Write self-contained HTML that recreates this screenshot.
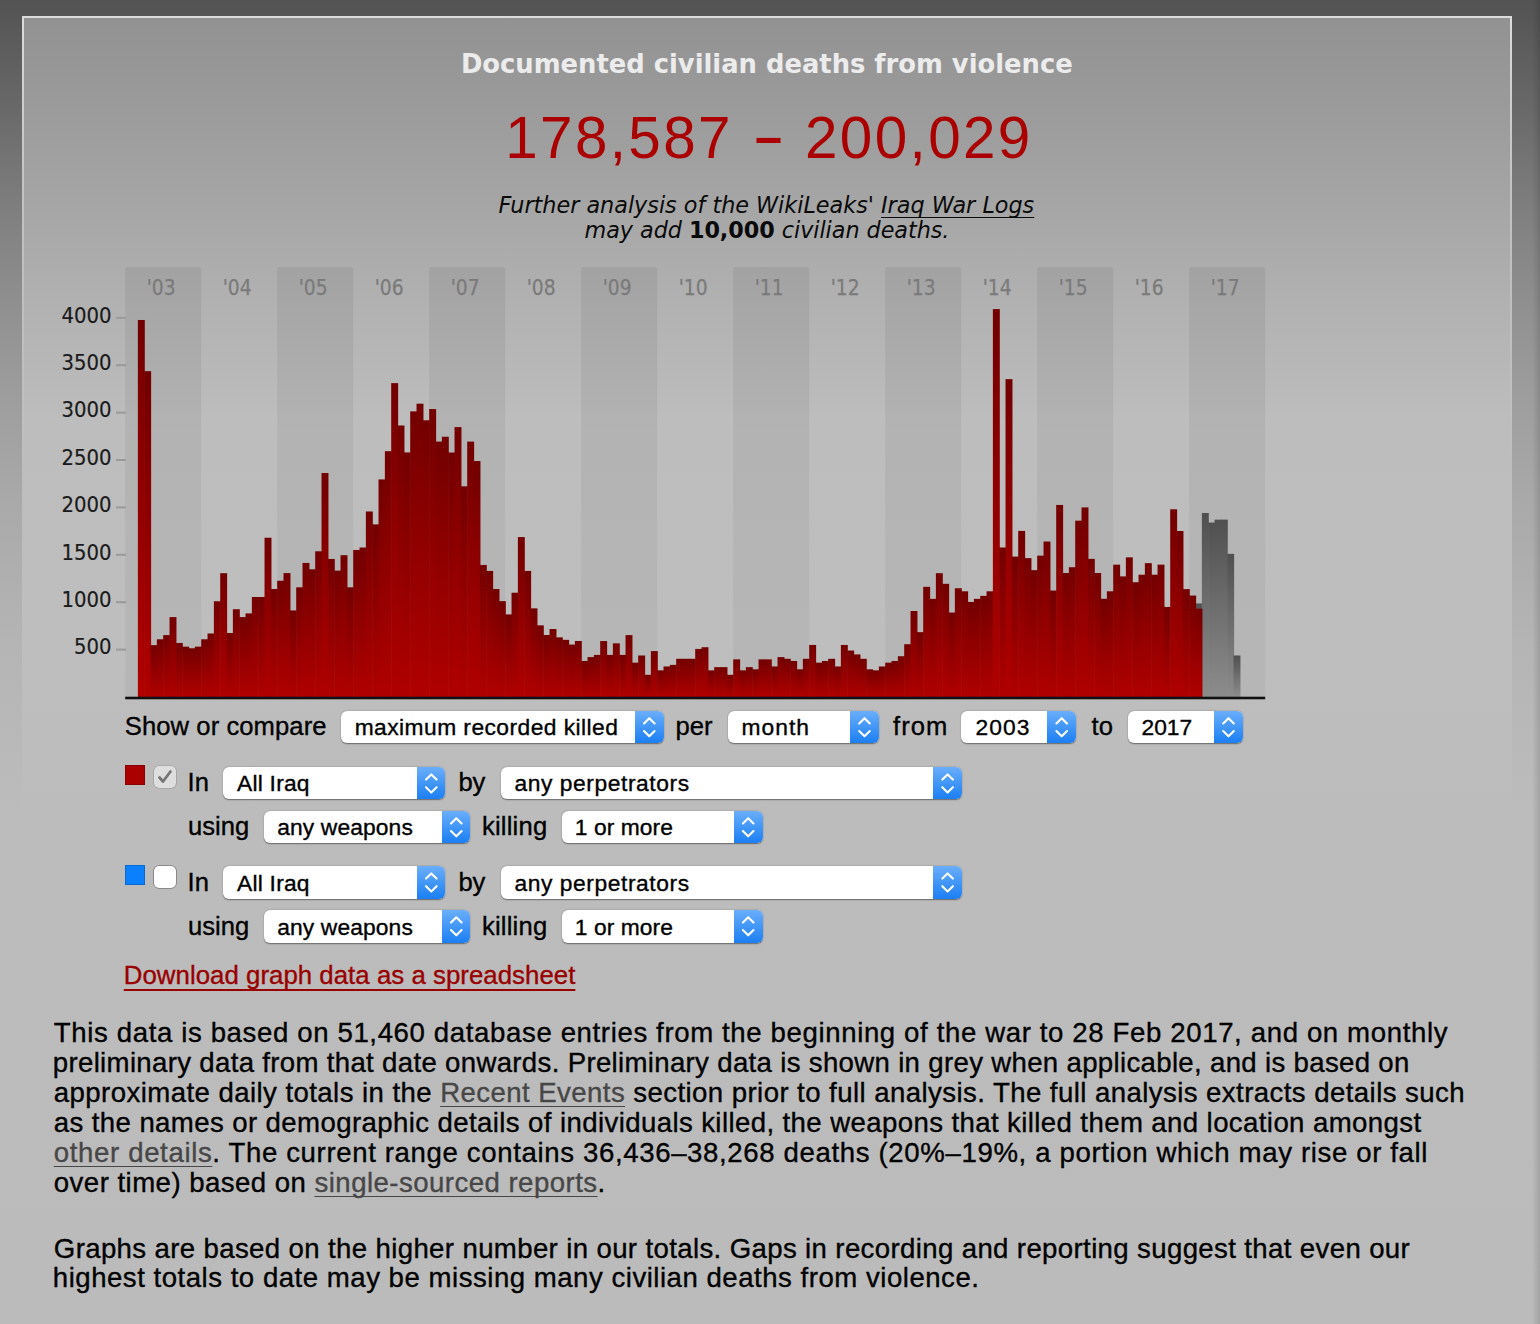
<!DOCTYPE html>
<html><head><meta charset="utf-8"><title>Iraq Body Count</title>
<style>
html,body{margin:0;padding:0;}
body{width:1540px;height:1324px;overflow:hidden;position:relative;background:linear-gradient(to bottom,#545454 0px,#565656 16px,#5f5f5f 60px,#676767 100px,#7d7d7d 200px,#8f8f8f 300px,#9e9e9e 400px,#a9a9a9 500px,#b5b5b5 650px,#bcbcbc 815px,#bbbbbb 1324px);font-family:'Liberation Sans', sans-serif;color:#000;}
.panel{position:absolute;left:22px;top:16px;width:1490px;height:1308px;background:linear-gradient(to bottom,#929292 0px,#9a9a9a 84px,#a5a5a5 184px,#b1b1b1 284px,#bdbdbd 404px,#bebebe 634px,#bcbcbc 799px,#bbbbbb 1308px);}
.bt{position:absolute;left:22px;top:16px;width:1490px;height:2px;background:#dcdcdc;}
.bl,.br{position:absolute;top:16px;width:2px;height:500px;background:linear-gradient(to bottom,#dcdcdc 0,rgba(220,220,220,0.5) 200px,rgba(220,220,220,0) 450px);}
.redge{position:absolute;left:1532px;top:0;width:8px;height:1324px;background:linear-gradient(to right,rgba(0,0,0,0),rgba(0,0,0,0.13));}
.bl{left:22px;} .br{left:1510px;}
.tx{position:absolute;white-space:nowrap;line-height:1.2;text-decoration-skip-ink:none;}
.tx a,.tx u{text-decoration-skip-ink:none;}
.tx b{font-style:normal;}
.tx u{text-decoration-thickness:1.2px;text-underline-offset:3.5px;}
.tx a{color:#474747;text-decoration:underline;text-decoration-thickness:1.4px;text-underline-offset:3.5px;}
.tx a.dla{color:#990000;text-decoration-thickness:2px;text-underline-offset:4.5px;}
.chart{position:absolute;left:0;top:0;}
.yl{font:21.5px "DejaVu Sans",sans-serif;fill:#7a7a7a;stroke:#7a7a7a;stroke-width:0.25px;}
.al{font:21px "DejaVu Sans",sans-serif;fill:#1a1a1a;stroke:#1a1a1a;stroke-width:0.2px;}
.sel{position:absolute;background:#fff;border-radius:6px;box-shadow:0 0.6px 1.4px rgba(0,0,0,0.45);overflow:hidden;}
.btn{position:absolute;right:0;top:0;bottom:0;background:linear-gradient(to bottom,#6aaefb,#1b7ff3);}
.btn svg{display:block;}
.sw{position:absolute;width:20px;height:20px;box-shadow:inset 0 0 0 1px rgba(0,0,0,0.18);}
.cb{position:absolute;width:22px;height:22px;border-radius:5px;background:#fff;box-shadow:0 0 0 0.8px rgba(0,0,0,0.35);}
.cb.dis{background:#dedede;box-shadow:0 0 0 0.6px rgba(0,0,0,0.2);}
.cb svg{display:block;}
</style></head><body>
<div class="panel"></div><div class="redge"></div><div class="bt"></div><div class="bl"></div><div class="br"></div>
<svg class="chart" width="1540" height="720" viewBox="0 0 1540 720"><defs><linearGradient id="rg" x1="0" y1="0" x2="0" y2="1"><stop offset="0" stop-color="#720000"/><stop offset="0.3" stop-color="#860000"/><stop offset="1" stop-color="#b00000"/></linearGradient><linearGradient id="gg" x1="0" y1="0" x2="0" y2="1"><stop offset="0" stop-color="#505050"/><stop offset="1" stop-color="#8c8c8c"/></linearGradient><linearGradient id="band" x1="0" y1="0" x2="0" y2="1"><stop offset="0" stop-color="#000" stop-opacity="0.065"/><stop offset="1" stop-color="#000" stop-opacity="0.04"/></linearGradient></defs><rect x="125.20" y="267" width="76" height="430.0" rx="2" fill="url(#band)"/><rect x="277.20" y="267" width="76" height="430.0" rx="2" fill="url(#band)"/><rect x="429.20" y="267" width="76" height="430.0" rx="2" fill="url(#band)"/><rect x="581.20" y="267" width="76" height="430.0" rx="2" fill="url(#band)"/><rect x="733.20" y="267" width="76" height="430.0" rx="2" fill="url(#band)"/><rect x="885.20" y="267" width="76" height="430.0" rx="2" fill="url(#band)"/><rect x="1037.20" y="267" width="76" height="430.0" rx="2" fill="url(#band)"/><rect x="1189.20" y="267" width="76" height="430.0" rx="2" fill="url(#band)"/><text x="146.7" y="294.6" class="yl" textLength="29" lengthAdjust="spacingAndGlyphs">&#39;03</text><text x="222.7" y="294.6" class="yl" textLength="29" lengthAdjust="spacingAndGlyphs">&#39;04</text><text x="298.7" y="294.6" class="yl" textLength="29" lengthAdjust="spacingAndGlyphs">&#39;05</text><text x="374.7" y="294.6" class="yl" textLength="29" lengthAdjust="spacingAndGlyphs">&#39;06</text><text x="450.7" y="294.6" class="yl" textLength="29" lengthAdjust="spacingAndGlyphs">&#39;07</text><text x="526.7" y="294.6" class="yl" textLength="29" lengthAdjust="spacingAndGlyphs">&#39;08</text><text x="602.7" y="294.6" class="yl" textLength="29" lengthAdjust="spacingAndGlyphs">&#39;09</text><text x="678.7" y="294.6" class="yl" textLength="29" lengthAdjust="spacingAndGlyphs">&#39;10</text><text x="754.7" y="294.6" class="yl" textLength="29" lengthAdjust="spacingAndGlyphs">&#39;11</text><text x="830.7" y="294.6" class="yl" textLength="29" lengthAdjust="spacingAndGlyphs">&#39;12</text><text x="906.7" y="294.6" class="yl" textLength="29" lengthAdjust="spacingAndGlyphs">&#39;13</text><text x="982.7" y="294.6" class="yl" textLength="29" lengthAdjust="spacingAndGlyphs">&#39;14</text><text x="1058.7" y="294.6" class="yl" textLength="29" lengthAdjust="spacingAndGlyphs">&#39;15</text><text x="1134.7" y="294.6" class="yl" textLength="29" lengthAdjust="spacingAndGlyphs">&#39;16</text><text x="1210.7" y="294.6" class="yl" textLength="29" lengthAdjust="spacingAndGlyphs">&#39;17</text><text x="74.0" y="654.4" class="al" textLength="37.5" lengthAdjust="spacingAndGlyphs">500</text><rect x="116" y="648.6" width="10" height="2" fill="#9a9a9a"/><text x="61.5" y="607.0" class="al" textLength="50" lengthAdjust="spacingAndGlyphs">1000</text><rect x="116" y="601.2" width="10" height="2" fill="#9a9a9a"/><text x="61.5" y="559.6" class="al" textLength="50" lengthAdjust="spacingAndGlyphs">1500</text><rect x="116" y="553.8" width="10" height="2" fill="#9a9a9a"/><text x="61.5" y="512.2" class="al" textLength="50" lengthAdjust="spacingAndGlyphs">2000</text><rect x="116" y="506.4" width="10" height="2" fill="#9a9a9a"/><text x="61.5" y="464.8" class="al" textLength="50" lengthAdjust="spacingAndGlyphs">2500</text><rect x="116" y="459.0" width="10" height="2" fill="#9a9a9a"/><text x="61.5" y="417.4" class="al" textLength="50" lengthAdjust="spacingAndGlyphs">3000</text><rect x="116" y="411.6" width="10" height="2" fill="#9a9a9a"/><text x="61.5" y="370.0" class="al" textLength="50" lengthAdjust="spacingAndGlyphs">3500</text><rect x="116" y="364.2" width="10" height="2" fill="#9a9a9a"/><text x="61.5" y="322.6" class="al" textLength="50" lengthAdjust="spacingAndGlyphs">4000</text><rect x="116" y="316.8" width="10" height="2" fill="#9a9a9a"/><rect x="1195.53" y="603.43" width="6.93" height="93.57" fill="url(#gg)"/><rect x="1201.87" y="512.99" width="6.93" height="184.01" fill="url(#gg)"/><rect x="1208.20" y="522.57" width="6.93" height="174.43" fill="url(#gg)"/><rect x="1214.53" y="519.63" width="6.93" height="177.37" fill="url(#gg)"/><rect x="1220.87" y="519.63" width="6.93" height="177.37" fill="url(#gg)"/><rect x="1227.20" y="553.85" width="6.93" height="143.15" fill="url(#gg)"/><rect x="1233.53" y="655.48" width="6.93" height="41.52" fill="url(#gg)"/><rect x="137.87" y="319.98" width="6.93" height="377.02" fill="url(#rg)"/><rect x="144.20" y="371.17" width="6.93" height="325.83" fill="url(#rg)"/><rect x="150.53" y="645.14" width="6.93" height="51.86" fill="url(#rg)"/><rect x="156.87" y="639.27" width="6.93" height="57.73" fill="url(#rg)"/><rect x="163.20" y="635.10" width="6.93" height="61.90" fill="url(#rg)"/><rect x="169.53" y="617.08" width="6.93" height="79.92" fill="url(#rg)"/><rect x="175.87" y="642.96" width="6.93" height="54.04" fill="url(#rg)"/><rect x="182.20" y="646.66" width="6.93" height="50.34" fill="url(#rg)"/><rect x="188.53" y="648.27" width="6.93" height="48.73" fill="url(#rg)"/><rect x="194.87" y="646.66" width="6.93" height="50.34" fill="url(#rg)"/><rect x="201.20" y="639.27" width="6.93" height="57.73" fill="url(#rg)"/><rect x="207.53" y="633.48" width="6.93" height="63.52" fill="url(#rg)"/><rect x="213.87" y="601.25" width="6.93" height="95.75" fill="url(#rg)"/><rect x="220.20" y="573.19" width="6.93" height="123.81" fill="url(#rg)"/><rect x="226.53" y="633.01" width="6.93" height="63.99" fill="url(#rg)"/><rect x="232.87" y="609.22" width="6.93" height="87.78" fill="url(#rg)"/><rect x="239.20" y="617.08" width="6.93" height="79.92" fill="url(#rg)"/><rect x="245.53" y="613.39" width="6.93" height="83.61" fill="url(#rg)"/><rect x="251.87" y="596.99" width="6.93" height="100.01" fill="url(#rg)"/><rect x="258.20" y="596.99" width="6.93" height="100.01" fill="url(#rg)"/><rect x="264.53" y="537.74" width="6.93" height="159.26" fill="url(#rg)"/><rect x="270.87" y="589.02" width="6.93" height="107.98" fill="url(#rg)"/><rect x="277.20" y="580.78" width="6.93" height="116.22" fill="url(#rg)"/><rect x="283.53" y="573.10" width="6.93" height="123.90" fill="url(#rg)"/><rect x="289.87" y="610.45" width="6.93" height="86.55" fill="url(#rg)"/><rect x="296.20" y="587.32" width="6.93" height="109.68" fill="url(#rg)"/><rect x="302.53" y="562.95" width="6.93" height="134.05" fill="url(#rg)"/><rect x="308.87" y="569.30" width="6.93" height="127.70" fill="url(#rg)"/><rect x="315.20" y="551.29" width="6.93" height="145.71" fill="url(#rg)"/><rect x="321.53" y="472.99" width="6.93" height="224.01" fill="url(#rg)"/><rect x="327.87" y="558.97" width="6.93" height="138.03" fill="url(#rg)"/><rect x="334.20" y="570.63" width="6.93" height="126.37" fill="url(#rg)"/><rect x="340.53" y="555.18" width="6.93" height="141.82" fill="url(#rg)"/><rect x="346.87" y="587.32" width="6.93" height="109.68" fill="url(#rg)"/><rect x="353.20" y="549.97" width="6.93" height="147.03" fill="url(#rg)"/><rect x="359.53" y="547.50" width="6.93" height="149.50" fill="url(#rg)"/><rect x="365.87" y="511.48" width="6.93" height="185.52" fill="url(#rg)"/><rect x="372.20" y="524.37" width="6.93" height="172.63" fill="url(#rg)"/><rect x="378.53" y="479.43" width="6.93" height="217.57" fill="url(#rg)"/><rect x="384.87" y="451.18" width="6.93" height="245.82" fill="url(#rg)"/><rect x="391.20" y="383.12" width="6.93" height="313.88" fill="url(#rg)"/><rect x="397.53" y="425.49" width="6.93" height="271.51" fill="url(#rg)"/><rect x="403.87" y="452.42" width="6.93" height="244.58" fill="url(#rg)"/><rect x="410.20" y="411.37" width="6.93" height="285.63" fill="url(#rg)"/><rect x="416.53" y="403.69" width="6.93" height="293.31" fill="url(#rg)"/><rect x="422.87" y="420.28" width="6.93" height="276.72" fill="url(#rg)"/><rect x="429.20" y="409.00" width="6.93" height="288.00" fill="url(#rg)"/><rect x="435.53" y="441.61" width="6.93" height="255.39" fill="url(#rg)"/><rect x="441.87" y="436.77" width="6.93" height="260.23" fill="url(#rg)"/><rect x="448.20" y="452.51" width="6.93" height="244.49" fill="url(#rg)"/><rect x="454.53" y="427.10" width="6.93" height="269.90" fill="url(#rg)"/><rect x="460.87" y="486.35" width="6.93" height="210.65" fill="url(#rg)"/><rect x="467.20" y="441.61" width="6.93" height="255.39" fill="url(#rg)"/><rect x="473.53" y="461.04" width="6.93" height="235.96" fill="url(#rg)"/><rect x="479.87" y="564.94" width="6.93" height="132.06" fill="url(#rg)"/><rect x="486.20" y="570.92" width="6.93" height="126.08" fill="url(#rg)"/><rect x="492.53" y="589.02" width="6.93" height="107.98" fill="url(#rg)"/><rect x="498.87" y="601.16" width="6.93" height="95.84" fill="url(#rg)"/><rect x="505.20" y="614.43" width="6.93" height="82.57" fill="url(#rg)"/><rect x="511.53" y="592.72" width="6.93" height="104.28" fill="url(#rg)"/><rect x="517.87" y="537.07" width="6.93" height="159.93" fill="url(#rg)"/><rect x="524.20" y="570.92" width="6.93" height="126.08" fill="url(#rg)"/><rect x="530.53" y="608.36" width="6.93" height="88.64" fill="url(#rg)"/><rect x="536.87" y="625.33" width="6.93" height="71.67" fill="url(#rg)"/><rect x="543.20" y="635.00" width="6.93" height="62.00" fill="url(#rg)"/><rect x="549.53" y="629.03" width="6.93" height="67.97" fill="url(#rg)"/><rect x="555.87" y="637.37" width="6.93" height="59.63" fill="url(#rg)"/><rect x="562.20" y="639.84" width="6.93" height="57.16" fill="url(#rg)"/><rect x="568.53" y="644.58" width="6.93" height="52.42" fill="url(#rg)"/><rect x="574.87" y="640.97" width="6.93" height="56.03" fill="url(#rg)"/><rect x="581.20" y="660.98" width="6.93" height="36.02" fill="url(#rg)"/><rect x="587.53" y="657.09" width="6.93" height="39.91" fill="url(#rg)"/><rect x="593.87" y="654.91" width="6.93" height="42.09" fill="url(#rg)"/><rect x="600.20" y="641.07" width="6.93" height="55.93" fill="url(#rg)"/><rect x="606.53" y="654.91" width="6.93" height="42.09" fill="url(#rg)"/><rect x="612.87" y="643.34" width="6.93" height="53.66" fill="url(#rg)"/><rect x="619.20" y="654.91" width="6.93" height="42.09" fill="url(#rg)"/><rect x="625.53" y="635.10" width="6.93" height="61.90" fill="url(#rg)"/><rect x="631.87" y="662.68" width="6.93" height="34.32" fill="url(#rg)"/><rect x="638.20" y="655.48" width="6.93" height="41.52" fill="url(#rg)"/><rect x="644.53" y="674.82" width="6.93" height="22.18" fill="url(#rg)"/><rect x="650.87" y="651.12" width="6.93" height="45.88" fill="url(#rg)"/><rect x="657.20" y="670.36" width="6.93" height="26.64" fill="url(#rg)"/><rect x="663.53" y="666.47" width="6.93" height="30.53" fill="url(#rg)"/><rect x="669.87" y="664.86" width="6.93" height="32.14" fill="url(#rg)"/><rect x="676.20" y="658.80" width="6.93" height="38.20" fill="url(#rg)"/><rect x="682.53" y="658.80" width="6.93" height="38.20" fill="url(#rg)"/><rect x="688.87" y="658.80" width="6.93" height="38.20" fill="url(#rg)"/><rect x="695.20" y="648.94" width="6.93" height="48.06" fill="url(#rg)"/><rect x="701.53" y="647.23" width="6.93" height="49.77" fill="url(#rg)"/><rect x="707.87" y="670.36" width="6.93" height="26.64" fill="url(#rg)"/><rect x="714.20" y="667.14" width="6.93" height="29.86" fill="url(#rg)"/><rect x="720.53" y="667.14" width="6.93" height="29.86" fill="url(#rg)"/><rect x="726.87" y="674.82" width="6.93" height="22.18" fill="url(#rg)"/><rect x="733.20" y="659.36" width="6.93" height="37.64" fill="url(#rg)"/><rect x="739.53" y="670.36" width="6.93" height="26.64" fill="url(#rg)"/><rect x="745.87" y="667.14" width="6.93" height="29.86" fill="url(#rg)"/><rect x="752.20" y="669.32" width="6.93" height="27.68" fill="url(#rg)"/><rect x="758.53" y="659.36" width="6.93" height="37.64" fill="url(#rg)"/><rect x="764.87" y="659.36" width="6.93" height="37.64" fill="url(#rg)"/><rect x="771.20" y="666.47" width="6.93" height="30.53" fill="url(#rg)"/><rect x="777.53" y="657.09" width="6.93" height="39.91" fill="url(#rg)"/><rect x="783.87" y="658.80" width="6.93" height="38.20" fill="url(#rg)"/><rect x="790.20" y="660.98" width="6.93" height="36.02" fill="url(#rg)"/><rect x="796.53" y="669.32" width="6.93" height="27.68" fill="url(#rg)"/><rect x="802.87" y="658.80" width="6.93" height="38.20" fill="url(#rg)"/><rect x="809.20" y="644.95" width="6.93" height="52.05" fill="url(#rg)"/><rect x="815.53" y="662.68" width="6.93" height="34.32" fill="url(#rg)"/><rect x="821.87" y="660.98" width="6.93" height="36.02" fill="url(#rg)"/><rect x="828.20" y="658.80" width="6.93" height="38.20" fill="url(#rg)"/><rect x="834.53" y="666.47" width="6.93" height="30.53" fill="url(#rg)"/><rect x="840.87" y="644.95" width="6.93" height="52.05" fill="url(#rg)"/><rect x="847.20" y="650.55" width="6.93" height="46.45" fill="url(#rg)"/><rect x="853.53" y="654.43" width="6.93" height="42.57" fill="url(#rg)"/><rect x="859.87" y="658.80" width="6.93" height="38.20" fill="url(#rg)"/><rect x="866.20" y="669.32" width="6.93" height="27.68" fill="url(#rg)"/><rect x="872.53" y="670.36" width="6.93" height="26.64" fill="url(#rg)"/><rect x="878.87" y="666.47" width="6.93" height="30.53" fill="url(#rg)"/><rect x="885.20" y="662.68" width="6.93" height="34.32" fill="url(#rg)"/><rect x="891.53" y="660.98" width="6.93" height="36.02" fill="url(#rg)"/><rect x="897.87" y="656.24" width="6.93" height="40.76" fill="url(#rg)"/><rect x="904.20" y="644.20" width="6.93" height="52.80" fill="url(#rg)"/><rect x="910.53" y="611.02" width="6.93" height="85.98" fill="url(#rg)"/><rect x="916.87" y="632.16" width="6.93" height="64.84" fill="url(#rg)"/><rect x="923.20" y="586.84" width="6.93" height="110.16" fill="url(#rg)"/><rect x="929.53" y="598.88" width="6.93" height="98.12" fill="url(#rg)"/><rect x="935.87" y="573.19" width="6.93" height="123.81" fill="url(#rg)"/><rect x="942.20" y="583.81" width="6.93" height="113.19" fill="url(#rg)"/><rect x="948.53" y="612.53" width="6.93" height="84.47" fill="url(#rg)"/><rect x="954.87" y="588.26" width="6.93" height="108.74" fill="url(#rg)"/><rect x="961.20" y="591.30" width="6.93" height="105.70" fill="url(#rg)"/><rect x="967.53" y="601.92" width="6.93" height="95.08" fill="url(#rg)"/><rect x="973.87" y="598.88" width="6.93" height="98.12" fill="url(#rg)"/><rect x="980.20" y="595.85" width="6.93" height="101.15" fill="url(#rg)"/><rect x="986.53" y="591.30" width="6.93" height="105.70" fill="url(#rg)"/><rect x="992.87" y="309.08" width="6.93" height="387.92" fill="url(#rg)"/><rect x="999.20" y="547.50" width="6.93" height="149.50" fill="url(#rg)"/><rect x="1005.53" y="379.14" width="6.93" height="317.86" fill="url(#rg)"/><rect x="1011.87" y="556.60" width="6.93" height="140.40" fill="url(#rg)"/><rect x="1018.20" y="530.91" width="6.93" height="166.09" fill="url(#rg)"/><rect x="1024.53" y="558.12" width="6.93" height="138.88" fill="url(#rg)"/><rect x="1030.87" y="570.16" width="6.93" height="126.84" fill="url(#rg)"/><rect x="1037.20" y="555.65" width="6.93" height="141.35" fill="url(#rg)"/><rect x="1043.53" y="541.53" width="6.93" height="155.47" fill="url(#rg)"/><rect x="1049.87" y="590.54" width="6.93" height="106.46" fill="url(#rg)"/><rect x="1056.20" y="504.94" width="6.93" height="192.06" fill="url(#rg)"/><rect x="1062.53" y="573.00" width="6.93" height="124.00" fill="url(#rg)"/><rect x="1068.87" y="567.22" width="6.93" height="129.78" fill="url(#rg)"/><rect x="1075.20" y="520.67" width="6.93" height="176.33" fill="url(#rg)"/><rect x="1081.53" y="507.40" width="6.93" height="189.60" fill="url(#rg)"/><rect x="1087.87" y="558.88" width="6.93" height="138.12" fill="url(#rg)"/><rect x="1094.20" y="573.00" width="6.93" height="124.00" fill="url(#rg)"/><rect x="1100.53" y="598.79" width="6.93" height="98.21" fill="url(#rg)"/><rect x="1106.87" y="591.30" width="6.93" height="105.70" fill="url(#rg)"/><rect x="1113.20" y="564.66" width="6.93" height="132.34" fill="url(#rg)"/><rect x="1119.53" y="576.41" width="6.93" height="120.59" fill="url(#rg)"/><rect x="1125.87" y="557.36" width="6.93" height="139.64" fill="url(#rg)"/><rect x="1132.20" y="582.20" width="6.93" height="114.80" fill="url(#rg)"/><rect x="1138.53" y="574.71" width="6.93" height="122.29" fill="url(#rg)"/><rect x="1144.87" y="563.14" width="6.93" height="133.86" fill="url(#rg)"/><rect x="1151.20" y="574.71" width="6.93" height="122.29" fill="url(#rg)"/><rect x="1157.53" y="564.66" width="6.93" height="132.34" fill="url(#rg)"/><rect x="1163.87" y="606.94" width="6.93" height="90.06" fill="url(#rg)"/><rect x="1170.20" y="509.30" width="6.93" height="187.70" fill="url(#rg)"/><rect x="1176.53" y="531.01" width="6.93" height="165.99" fill="url(#rg)"/><rect x="1182.87" y="589.12" width="6.93" height="107.88" fill="url(#rg)"/><rect x="1189.20" y="595.56" width="6.93" height="101.44" fill="url(#rg)"/><rect x="1195.53" y="608.65" width="6.93" height="88.35" fill="url(#rg)"/><rect x="125.2" y="696.7" width="1140" height="2.6" fill="#111"/></svg>
<div class="sel" style="left:340.7px;top:710.8px;width:323px;height:32.4px"><div class="btn" style="width:28.6px"><svg width="28.6" height="32.4" viewBox="0 0 28.6 32.4"><path d="M9.0 12.4 L14.3 7.2 L19.6 12.4 M9.0 20.0 L14.3 25.2 L19.6 20.0" fill="none" stroke="#fff" stroke-width="2.1" stroke-linecap="round" stroke-linejoin="round"/></svg></div></div>
<div class="sel" style="left:727.6px;top:710.8px;width:151.4px;height:32.4px"><div class="btn" style="width:28.9px"><svg width="28.9" height="32.4" viewBox="0 0 28.9 32.4"><path d="M9.2 12.4 L14.5 7.2 L19.8 12.4 M9.2 20.0 L14.5 25.2 L19.8 20.0" fill="none" stroke="#fff" stroke-width="2.1" stroke-linecap="round" stroke-linejoin="round"/></svg></div></div>
<div class="sel" style="left:960.9px;top:710.8px;width:115.3px;height:32.4px"><div class="btn" style="width:29.4px"><svg width="29.4" height="32.4" viewBox="0 0 29.4 32.4"><path d="M9.4 12.4 L14.7 7.2 L20.0 12.4 M9.4 20.0 L14.7 25.2 L20.0 20.0" fill="none" stroke="#fff" stroke-width="2.1" stroke-linecap="round" stroke-linejoin="round"/></svg></div></div>
<div class="sel" style="left:1127.8px;top:710.8px;width:115.2px;height:32.4px"><div class="btn" style="width:29.0px"><svg width="29.0" height="32.4" viewBox="0 0 29.0 32.4"><path d="M9.2 12.4 L14.5 7.2 L19.8 12.4 M9.2 20.0 L14.5 25.2 L19.8 20.0" fill="none" stroke="#fff" stroke-width="2.1" stroke-linecap="round" stroke-linejoin="round"/></svg></div></div>
<div class="sel" style="left:222.9px;top:766.5px;width:222.6px;height:32.8px"><div class="btn" style="width:28.7px"><svg width="28.7" height="32.8" viewBox="0 0 28.7 32.8"><path d="M9.0 12.6 L14.3 7.4 L19.6 12.6 M9.0 20.2 L14.3 25.4 L19.6 20.2" fill="none" stroke="#fff" stroke-width="2.1" stroke-linecap="round" stroke-linejoin="round"/></svg></div></div>
<div class="sel" style="left:500.8px;top:766.5px;width:461.1px;height:32.8px"><div class="btn" style="width:29.2px"><svg width="29.2" height="32.8" viewBox="0 0 29.2 32.8"><path d="M9.3 12.6 L14.6 7.4 L19.9 12.6 M9.3 20.2 L14.6 25.4 L19.9 20.2" fill="none" stroke="#fff" stroke-width="2.1" stroke-linecap="round" stroke-linejoin="round"/></svg></div></div>
<div class="sel" style="left:263.6px;top:810.8px;width:206.8px;height:32.6px"><div class="btn" style="width:28.5px"><svg width="28.5" height="32.6" viewBox="0 0 28.5 32.6"><path d="M9.0 12.5 L14.3 7.3 L19.6 12.5 M9.0 20.1 L14.3 25.3 L19.6 20.1" fill="none" stroke="#fff" stroke-width="2.1" stroke-linecap="round" stroke-linejoin="round"/></svg></div></div>
<div class="sel" style="left:561.9px;top:810.8px;width:200.7px;height:32.6px"><div class="btn" style="width:28.5px"><svg width="28.5" height="32.6" viewBox="0 0 28.5 32.6"><path d="M8.9 12.5 L14.2 7.3 L19.5 12.5 M8.9 20.1 L14.2 25.3 L19.5 20.1" fill="none" stroke="#fff" stroke-width="2.1" stroke-linecap="round" stroke-linejoin="round"/></svg></div></div>
<div class="sel" style="left:222.9px;top:866.0px;width:222.6px;height:32.8px"><div class="btn" style="width:28.7px"><svg width="28.7" height="32.8" viewBox="0 0 28.7 32.8"><path d="M9.0 12.6 L14.3 7.4 L19.6 12.6 M9.0 20.2 L14.3 25.4 L19.6 20.2" fill="none" stroke="#fff" stroke-width="2.1" stroke-linecap="round" stroke-linejoin="round"/></svg></div></div>
<div class="sel" style="left:500.8px;top:866.0px;width:461.1px;height:32.8px"><div class="btn" style="width:29.2px"><svg width="29.2" height="32.8" viewBox="0 0 29.2 32.8"><path d="M9.3 12.6 L14.6 7.4 L19.9 12.6 M9.3 20.2 L14.6 25.4 L19.9 20.2" fill="none" stroke="#fff" stroke-width="2.1" stroke-linecap="round" stroke-linejoin="round"/></svg></div></div>
<div class="sel" style="left:263.6px;top:910.3px;width:206.8px;height:32.6px"><div class="btn" style="width:28.5px"><svg width="28.5" height="32.6" viewBox="0 0 28.5 32.6"><path d="M9.0 12.5 L14.3 7.3 L19.6 12.5 M9.0 20.1 L14.3 25.3 L19.6 20.1" fill="none" stroke="#fff" stroke-width="2.1" stroke-linecap="round" stroke-linejoin="round"/></svg></div></div>
<div class="sel" style="left:561.9px;top:910.3px;width:200.7px;height:32.6px"><div class="btn" style="width:28.5px"><svg width="28.5" height="32.6" viewBox="0 0 28.5 32.6"><path d="M8.9 12.5 L14.2 7.3 L19.5 12.5 M8.9 20.1 L14.2 25.3 L19.5 20.1" fill="none" stroke="#fff" stroke-width="2.1" stroke-linecap="round" stroke-linejoin="round"/></svg></div></div>
<div class="sw" style="left:125px;top:765px;background:#aa0000"></div>
<div class="cb dis" style="left:154px;top:766px"><svg width="22" height="22" viewBox="0 0 22 22"><path d="M5.5 11.5 L9 15.5 L16.5 5.5" fill="none" stroke="#767676" stroke-width="2.8" stroke-linecap="round" stroke-linejoin="round"/></svg></div>
<div class="sw" style="left:125px;top:865px;background:#0a80ff"></div>
<div class="cb" style="left:154px;top:866px"></div>
<div class="tx" style="left:460.9px;top:48.8px;font:bold 25.8px 'DejaVu Sans', sans-serif;color:#ececec;">Documented civilian deaths from violence</div>
<div class="tx" style="left:505.2px;top:103.8px;font:58.4px 'Liberation Sans', sans-serif;color:#aa0000;letter-spacing:2.381px;">178,587 <span style="display:inline-block;transform:scale(0.74,1.3);transform-origin:50% 70%">–</span> 200,029</div>
<div class="tx" style="left:498.4px;top:191.5px;font:italic 22.3px 'DejaVu Sans', sans-serif;color:#0a0a0a;">Further analysis of the WikiLeaks' <u>Iraq War Logs</u></div>
<div class="tx" style="left:584.5px;top:217.4px;font:italic 22.3px 'DejaVu Sans', sans-serif;color:#0a0a0a;letter-spacing:-0.040px;">may add <b>10,000</b> civilian deaths.</div>
<div class="tx" style="left:124.8px;top:712.2px;font:25.6px 'Liberation Sans', sans-serif;color:#000;letter-spacing:0.079px;-webkit-text-stroke:0.35px currentColor;">Show or compare</div>
<div class="tx" style="left:675.6px;top:712.2px;font:25.6px 'Liberation Sans', sans-serif;color:#000;-webkit-text-stroke:0.35px currentColor;">per</div>
<div class="tx" style="left:893.1px;top:712.2px;font:25.6px 'Liberation Sans', sans-serif;color:#000;letter-spacing:1.000px;-webkit-text-stroke:0.35px currentColor;">from</div>
<div class="tx" style="left:1091.6px;top:712.2px;font:25.6px 'Liberation Sans', sans-serif;color:#000;-webkit-text-stroke:0.35px currentColor;">to</div>
<div class="tx" style="left:354.7px;top:714.2px;font:22.8px 'Liberation Sans', sans-serif;color:#000;letter-spacing:0.445px;-webkit-text-stroke:0.35px currentColor;">maximum recorded killed</div>
<div class="tx" style="left:741.4px;top:714.2px;font:22.8px 'Liberation Sans', sans-serif;color:#000;letter-spacing:1.075px;-webkit-text-stroke:0.35px currentColor;">month</div>
<div class="tx" style="left:975.4px;top:714.2px;font:22.8px 'Liberation Sans', sans-serif;color:#000;letter-spacing:1.100px;-webkit-text-stroke:0.35px currentColor;">2003</div>
<div class="tx" style="left:1141.6px;top:714.2px;font:22.8px 'Liberation Sans', sans-serif;color:#000;letter-spacing:-0.067px;-webkit-text-stroke:0.35px currentColor;">2017</div>
<div class="tx" style="left:187.6px;top:768.0px;font:25.6px 'Liberation Sans', sans-serif;color:#000;-webkit-text-stroke:0.35px currentColor;">In</div>
<div class="tx" style="left:458.4px;top:768.0px;font:25.6px 'Liberation Sans', sans-serif;color:#000;-webkit-text-stroke:0.35px currentColor;">by</div>
<div class="tx" style="left:187.9px;top:812.4px;font:25.6px 'Liberation Sans', sans-serif;color:#000;letter-spacing:0.025px;-webkit-text-stroke:0.35px currentColor;">using</div>
<div class="tx" style="left:481.9px;top:812.4px;font:25.6px 'Liberation Sans', sans-serif;color:#000;letter-spacing:0.217px;-webkit-text-stroke:0.35px currentColor;">killing</div>
<div class="tx" style="left:237.1px;top:770.3px;font:22.8px 'Liberation Sans', sans-serif;color:#000;letter-spacing:0.214px;-webkit-text-stroke:0.35px currentColor;">All Iraq</div>
<div class="tx" style="left:514.4px;top:770.3px;font:22.8px 'Liberation Sans', sans-serif;color:#000;letter-spacing:0.580px;-webkit-text-stroke:0.35px currentColor;">any perpetrators</div>
<div class="tx" style="left:277.2px;top:814.1px;font:22.8px 'Liberation Sans', sans-serif;color:#000;letter-spacing:0.130px;-webkit-text-stroke:0.35px currentColor;">any weapons</div>
<div class="tx" style="left:574.8px;top:814.1px;font:22.8px 'Liberation Sans', sans-serif;color:#000;letter-spacing:0.062px;-webkit-text-stroke:0.35px currentColor;">1 or more</div>
<div class="tx" style="left:187.6px;top:867.5px;font:25.6px 'Liberation Sans', sans-serif;color:#000;-webkit-text-stroke:0.35px currentColor;">In</div>
<div class="tx" style="left:458.4px;top:867.5px;font:25.6px 'Liberation Sans', sans-serif;color:#000;-webkit-text-stroke:0.35px currentColor;">by</div>
<div class="tx" style="left:187.9px;top:911.9px;font:25.6px 'Liberation Sans', sans-serif;color:#000;letter-spacing:0.025px;-webkit-text-stroke:0.35px currentColor;">using</div>
<div class="tx" style="left:481.9px;top:911.9px;font:25.6px 'Liberation Sans', sans-serif;color:#000;letter-spacing:0.217px;-webkit-text-stroke:0.35px currentColor;">killing</div>
<div class="tx" style="left:237.1px;top:869.8px;font:22.8px 'Liberation Sans', sans-serif;color:#000;letter-spacing:0.214px;-webkit-text-stroke:0.35px currentColor;">All Iraq</div>
<div class="tx" style="left:514.4px;top:869.8px;font:22.8px 'Liberation Sans', sans-serif;color:#000;letter-spacing:0.580px;-webkit-text-stroke:0.35px currentColor;">any perpetrators</div>
<div class="tx" style="left:277.2px;top:913.6px;font:22.8px 'Liberation Sans', sans-serif;color:#000;letter-spacing:0.130px;-webkit-text-stroke:0.35px currentColor;">any weapons</div>
<div class="tx" style="left:574.8px;top:913.6px;font:22.8px 'Liberation Sans', sans-serif;color:#000;letter-spacing:0.062px;-webkit-text-stroke:0.35px currentColor;">1 or more</div>
<div class="tx" style="left:123.8px;top:960.8px;font:25.8px 'Liberation Sans', sans-serif;color:#990000;letter-spacing:0.034px;-webkit-text-stroke:0.35px currentColor;"><a class="dla">Download graph data as a spreadsheet</a></div>
<div class="tx" style="left:53.8px;top:1017.1px;font:27.6px 'Liberation Sans', sans-serif;color:#000;letter-spacing:0.621px;-webkit-text-stroke:0.35px currentColor;">This data is based on 51,460 database entries from the beginning of the war to 28 Feb 2017, and on monthly</div>
<div class="tx" style="left:52.8px;top:1047.0px;font:27.6px 'Liberation Sans', sans-serif;color:#000;letter-spacing:0.325px;-webkit-text-stroke:0.35px currentColor;">preliminary data from that date onwards. Preliminary data is shown in grey when applicable, and is based on</div>
<div class="tx" style="left:53.8px;top:1076.8px;font:27.6px 'Liberation Sans', sans-serif;color:#000;letter-spacing:0.425px;-webkit-text-stroke:0.35px currentColor;">approximate daily totals in the <a>Recent Events</a> section prior to full analysis. The full analysis extracts details such</div>
<div class="tx" style="left:53.8px;top:1106.7px;font:27.6px 'Liberation Sans', sans-serif;color:#000;letter-spacing:0.393px;-webkit-text-stroke:0.35px currentColor;">as the names or demographic details of individuals killed, the weapons that killed them and location amongst</div>
<div class="tx" style="left:53.8px;top:1136.6px;font:27.6px 'Liberation Sans', sans-serif;color:#000;letter-spacing:0.632px;-webkit-text-stroke:0.35px currentColor;"><a>other details</a>. The current range contains 36,436–38,268 deaths (20%–19%, a portion which may rise or fall</div>
<div class="tx" style="left:53.8px;top:1166.6px;font:27.6px 'Liberation Sans', sans-serif;color:#000;letter-spacing:0.457px;-webkit-text-stroke:0.35px currentColor;">over time) based on <a>single-sourced reports</a>.</div>
<div class="tx" style="left:53.8px;top:1232.8px;font:27.6px 'Liberation Sans', sans-serif;color:#000;letter-spacing:0.365px;-webkit-text-stroke:0.35px currentColor;">Graphs are based on the higher number in our totals. Gaps in recording and reporting suggest that even our</div>
<div class="tx" style="left:52.8px;top:1262.0px;font:27.6px 'Liberation Sans', sans-serif;color:#000;letter-spacing:0.508px;-webkit-text-stroke:0.35px currentColor;">highest totals to date may be missing many civilian deaths from violence.</div>
</body></html>
